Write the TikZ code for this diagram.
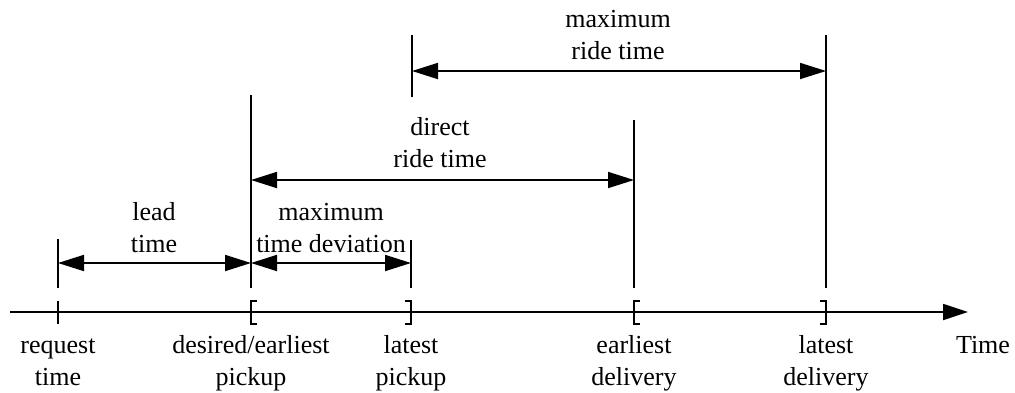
\documentclass[tikz,border=0pt]{standalone}
\usepackage{fontspec}
\setmainfont{Liberation Serif}
\usetikzlibrary{arrows.meta}
\newcommand\twolines[2]{\begin{tabular}[t]{@{}c@{}}#1\\#2\end{tabular}}
\begin{document}
\begin{tikzpicture}[x=1pt,y=-1pt,
  line width=1.8pt,
  head/.style={Triangle[length=26pt,width=16pt]},
  axisline/.style={-{Triangle[length=25pt,width=16pt]}},
  span/.style={{Triangle[length=26pt,width=16pt]}-{Triangle[length=26pt,width=16pt]}},
  marker/.style={line width=1.6pt},
  lbl/.style={inner sep=0pt, anchor=base, font=\fontsize{26}{32}\selectfont},
]
\useasboundingbox (0,0) rectangle (1015,392);

% points on the time axis
\coordinate (ax0) at (10,312);
\coordinate (ax1) at (968,312);
\coordinate (req) at (58,312);
\coordinate (ep)  at (251,312);
\coordinate (lp)  at (411,312);
\coordinate (ed)  at (634,312);
\coordinate (ld)  at (826,312);

% time axis
\draw[axisline] (ax0) -- (ax1);

% marks on the axis
\draw[marker] ([yshift=-12pt]req) -- ([yshift=11pt]req);
\draw[marker] ([xshift=6pt,yshift=-12pt]ep) -- ([yshift=-12pt]ep) -- ([yshift=11pt]ep) -- ([xshift=6pt,yshift=11pt]ep);
\draw[marker] ([xshift=-6pt,yshift=-12pt]lp) -- ([yshift=-12pt]lp) -- ([yshift=11pt]lp) -- ([xshift=-6pt,yshift=11pt]lp);
\draw[marker] ([xshift=6pt,yshift=-12pt]ed) -- ([yshift=-12pt]ed) -- ([yshift=11pt]ed) -- ([xshift=6pt,yshift=11pt]ed);
\draw[marker] ([xshift=-6pt,yshift=-12pt]ld) -- ([yshift=-12pt]ld) -- ([yshift=11pt]ld) -- ([xshift=-6pt,yshift=11pt]ld);

% guide lines above the axis
\coordinate (reqT) at (58,239);   \coordinate (reqB) at (58,288);
\coordinate (epT)  at (251,95);   \coordinate (epB)  at (251,288);
\coordinate (lpT)  at (411,240);  \coordinate (lpB)  at (411,288);
\coordinate (edT)  at (634,120);  \coordinate (edB)  at (634,288);
\coordinate (ldT)  at (826,35);   \coordinate (ldB)  at (826,288);
\coordinate (mrT)  at (412,35);   \coordinate (mrB)  at (412,97);
\draw (reqT) -- (reqB);
\draw (epT) -- (epB);
\draw (lpT) -- (lpB);
\draw (edT) -- (edB);
\draw (ldT) -- (ldB);
\draw (mrT) -- (mrB);

% interval arrows
\coordinate (leadA) at (58,263);  \coordinate (leadB) at (251,263);
\coordinate (devA)  at (251,263); \coordinate (devB)  at (411,263);
\coordinate (drA)   at (251,180); \coordinate (drB)   at (634,180);
\coordinate (mxA)   at (412,71);  \coordinate (mxB)   at (826,71);
\draw[span] (leadA) -- (leadB);
\draw[span] (devA) -- (devB);
\draw[span] (drA) -- (drB);
\draw[span] (mxA) -- (mxB);

% interval labels
\node[lbl] (leadL) at (154,220) {\twolines{lead}{time}};
\node[lbl] (devL)  at (331,220) {\twolines{maximum}{time deviation}};
\node[lbl] (drL)   at (440,135) {\twolines{direct}{ride time}};
\node[lbl] (mxL)   at (618,27)  {\twolines{maximum}{ride time}};

% axis labels
\node[lbl] (reqL) at (58,353)  {\twolines{request}{time}};
\node[lbl] (epL)  at (251,353) {\twolines{desired/earliest}{pickup}};
\node[lbl] (lpL)  at (411,353) {\twolines{latest}{pickup}};
\node[lbl] (edL)  at (634,353) {\twolines{earliest}{delivery}};
\node[lbl] (ldL)  at (826,353) {\twolines{latest}{delivery}};
\node[lbl] (timeL) at (983,353) {Time};
\end{tikzpicture}
\end{document}
